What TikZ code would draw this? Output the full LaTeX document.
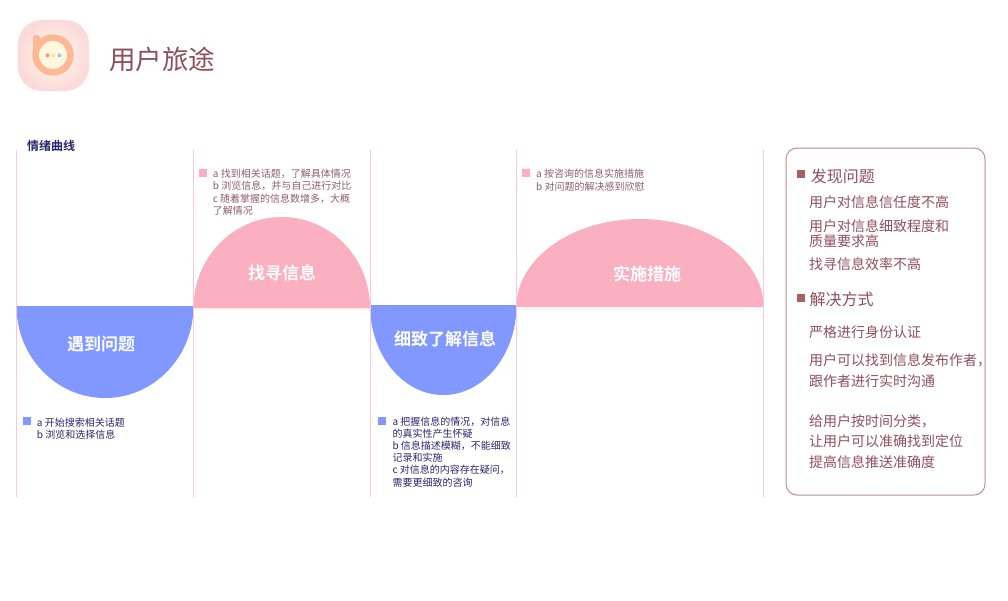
\documentclass[tikz,border=0pt]{standalone}
\usepackage{fontspec}
\setmainfont{Noto Sans CJK SC}[BoldFont={Noto Sans CJK SC Bold}]
\definecolor{rule}{HTML}{FFC6D6}
\definecolor{pinkfill}{HTML}{FBB0C2}
\definecolor{bluefill}{HTML}{8098FF}
\definecolor{navytext}{HTML}{28266E}
\definecolor{rosetext}{HTML}{8E5C6C}
\definecolor{maroon}{HTML}{8F4F5B}
\definecolor{boxline}{HTML}{BC8E94}
\definecolor{bulletc}{HTML}{AB5F60}
\definecolor{faint}{HTML}{F6F6F6}
\definecolor{iconin}{HTML}{FFFBEA}
\definecolor{iconout}{HTML}{FBDADA}
\definecolor{ring}{HTML}{FFB896}
\definecolor{face}{HTML}{FFF8DC}
\definecolor{dotr}{HTML}{FF8FA0}
\definecolor{doty}{HTML}{FFE98A}
\definecolor{dotb}{HTML}{8FCBFF}
\tikzset{
  txt/.style={anchor=west,inner sep=0pt},
  navyline/.style={txt,text=navytext,text height=8.8pt,text depth=1.2pt,font=\fontsize{10}{10}\selectfont},
  roseline/.style={txt,text=rosetext,text height=8.8pt,text depth=1.2pt,font=\fontsize{10}{10}\selectfont},
  bodyline/.style={txt,text=maroon,text height=12.3pt,text depth=1.7pt,font=\fontsize{14}{14}\selectfont},
  headline/.style={txt,text=maroon,text height=14.1pt,text depth=1.9pt,font=\fontsize{16}{16}\selectfont},
  stagelabel/.style={inner sep=0pt,text=white,font=\fontsize{17}{17}\selectfont\bfseries},
  divider/.style={draw=rule,line width=1pt},
}
\begin{document}
\begin{tikzpicture}[x=1pt,y=-1pt]
\useasboundingbox (0,0) rectangle (1008,600);
% app icon
\shade[inner color=iconin,outer color=iconout,rounded corners=24pt] (18,20) rectangle (89,91);
\fill[ring] (53,55) circle[radius=20.7];
\fill[ring,rounded corners=3pt] (33,35) rectangle (40,56);
\fill[face] (53,55) circle[radius=14];
\fill[dotr] (47.5,55.3) circle[radius=2];
\fill[doty] (53.5,55.3) circle[radius=2];
\fill[dotb] (59.5,55.3) circle[radius=2];
\node[txt,text=maroon,text height=23.3pt,text depth=3.2pt,font=\fontsize{26.5}{26.5}\selectfont] (title) at (109,59.5) {用户旅途};
\node[txt,text=navytext,text height=10.6pt,text depth=1.4pt,font=\fontsize{12}{12}\selectfont\bfseries] (curve) at (27,145.5) {情绪曲线};
% faint baselines
\fill[faint] (193.5,308) rectangle (370,310);
\fill[faint] (516.5,308) rectangle (745,310);
% stages
\fill[bluefill] (16.5,306) .. controls (16.5,356.8) and (56.1,398) .. (105,398) .. controls (153.9,398) and (193.5,356.8) .. (193.5,306) -- cycle;
\fill[pinkfill] (193.5,308) .. controls (193.5,257.7) and (233,217) .. (281.75,217) .. controls (330.5,217) and (370,257.7) .. (370,308) -- cycle;
\fill[bluefill] (370,305) .. controls (370,354.7) and (402.8,395) .. (443.25,395) .. controls (483.7,395) and (516.5,354.7) .. (516.5,305) -- cycle;
\fill[pinkfill] (516.5,307) .. controls (516.5,258.4) and (571.8,219) .. (640,219) .. controls (708.2,219) and (763.5,258.4) .. (763.5,307) -- cycle;
% dividers
\foreach \px in {16.5,193.5,370,516.5,763.5}
  \draw[divider] (\px,150) -- (\px,497);
\node[stagelabel] (s1) at (101,344.5) {遇到问题};
\node[stagelabel] (s2) at (282,272.5) {找寻信息};
\node[stagelabel] (s3) at (445,338.5) {细致了解信息};
\node[stagelabel] (s4) at (647,274) {实施措施};
% stage 1 notes
\fill[bluefill] (22.7,417) rectangle (30.7,425.3);
\node[navyline] (n1a) at (36.7,422.7) {a 开始搜索相关话题};
\node[navyline] (n1b) at (36.7,434.7) {b 浏览和选择信息};
% stage 2 notes
\fill[pinkfill] (199,169) rectangle (207,177);
\node[roseline] (n2a) at (212.7,173.3) {a 找到相关话题，了解具体情况};
\node[roseline] (n2b) at (212.7,186) {b 浏览信息，并与自己进行对比};
\node[roseline] (n2c) at (212.7,198.3) {c 随着掌握的信息数增多，大概};
\node[roseline] (n2d) at (212.7,210.7) {了解情况};
% stage 3 notes
\fill[bluefill] (378,417.3) rectangle (386,425.3);
\node[navyline] (n3a) at (392.3,421.7) {a 把握信息的情况，对信息};
\node[navyline] (n3b) at (392.3,434) {的真实性产生怀疑};
\node[navyline] (n3c) at (392.3,445.7) {b 信息描述模糊，不能细致};
\node[navyline] (n3d) at (392.3,457.7) {记录和实施};
\node[navyline] (n3e) at (392.3,470) {c 对信息的内容存在疑问，};
\node[navyline] (n3f) at (392.3,482.3) {需要更细致的咨询};
% stage 4 notes
\fill[pinkfill] (522,169) rectangle (530,177);
\node[roseline] (n4a) at (536,174) {a 按咨询的信息实施措施};
\node[roseline] (n4b) at (536,186.7) {b 对问题的解决感到欣慰};
% right panel
\draw[boxline,line width=1pt,rounded corners=11pt] (786,148) rectangle (985,495);
\fill[bulletc] (797.3,170) rectangle (805.3,178);
\node[headline] (h1) at (810.7,176) {发现问题};
\node[bodyline] (b1) at (809,202.3) {用户对信息信任度不高};
\node[bodyline] (b2) at (809,225.7) {用户对信息细致程度和};
\node[bodyline] (b3) at (809,240.7) {质量要求高};
\node[bodyline] (b4) at (809,264) {找寻信息效率不高};
\fill[bulletc] (797.3,294) rectangle (805.3,302);
\node[headline] (h2) at (809.3,299.3) {解决方式};
\node[bodyline] (b5) at (809,332) {严格进行身份认证};
\node[bodyline] (b6) at (809,360) {用户可以找到信息发布作者，};
\node[bodyline] (b7) at (809,380.7) {跟作者进行实时沟通};
\node[bodyline] (b8) at (809,420.7) {给用户按时间分类，};
\node[bodyline] (b9) at (809,441.3) {让用户可以准确找到定位};
\node[bodyline] (b10) at (809,461.7) {提高信息推送准确度};
\end{tikzpicture}
\end{document}
